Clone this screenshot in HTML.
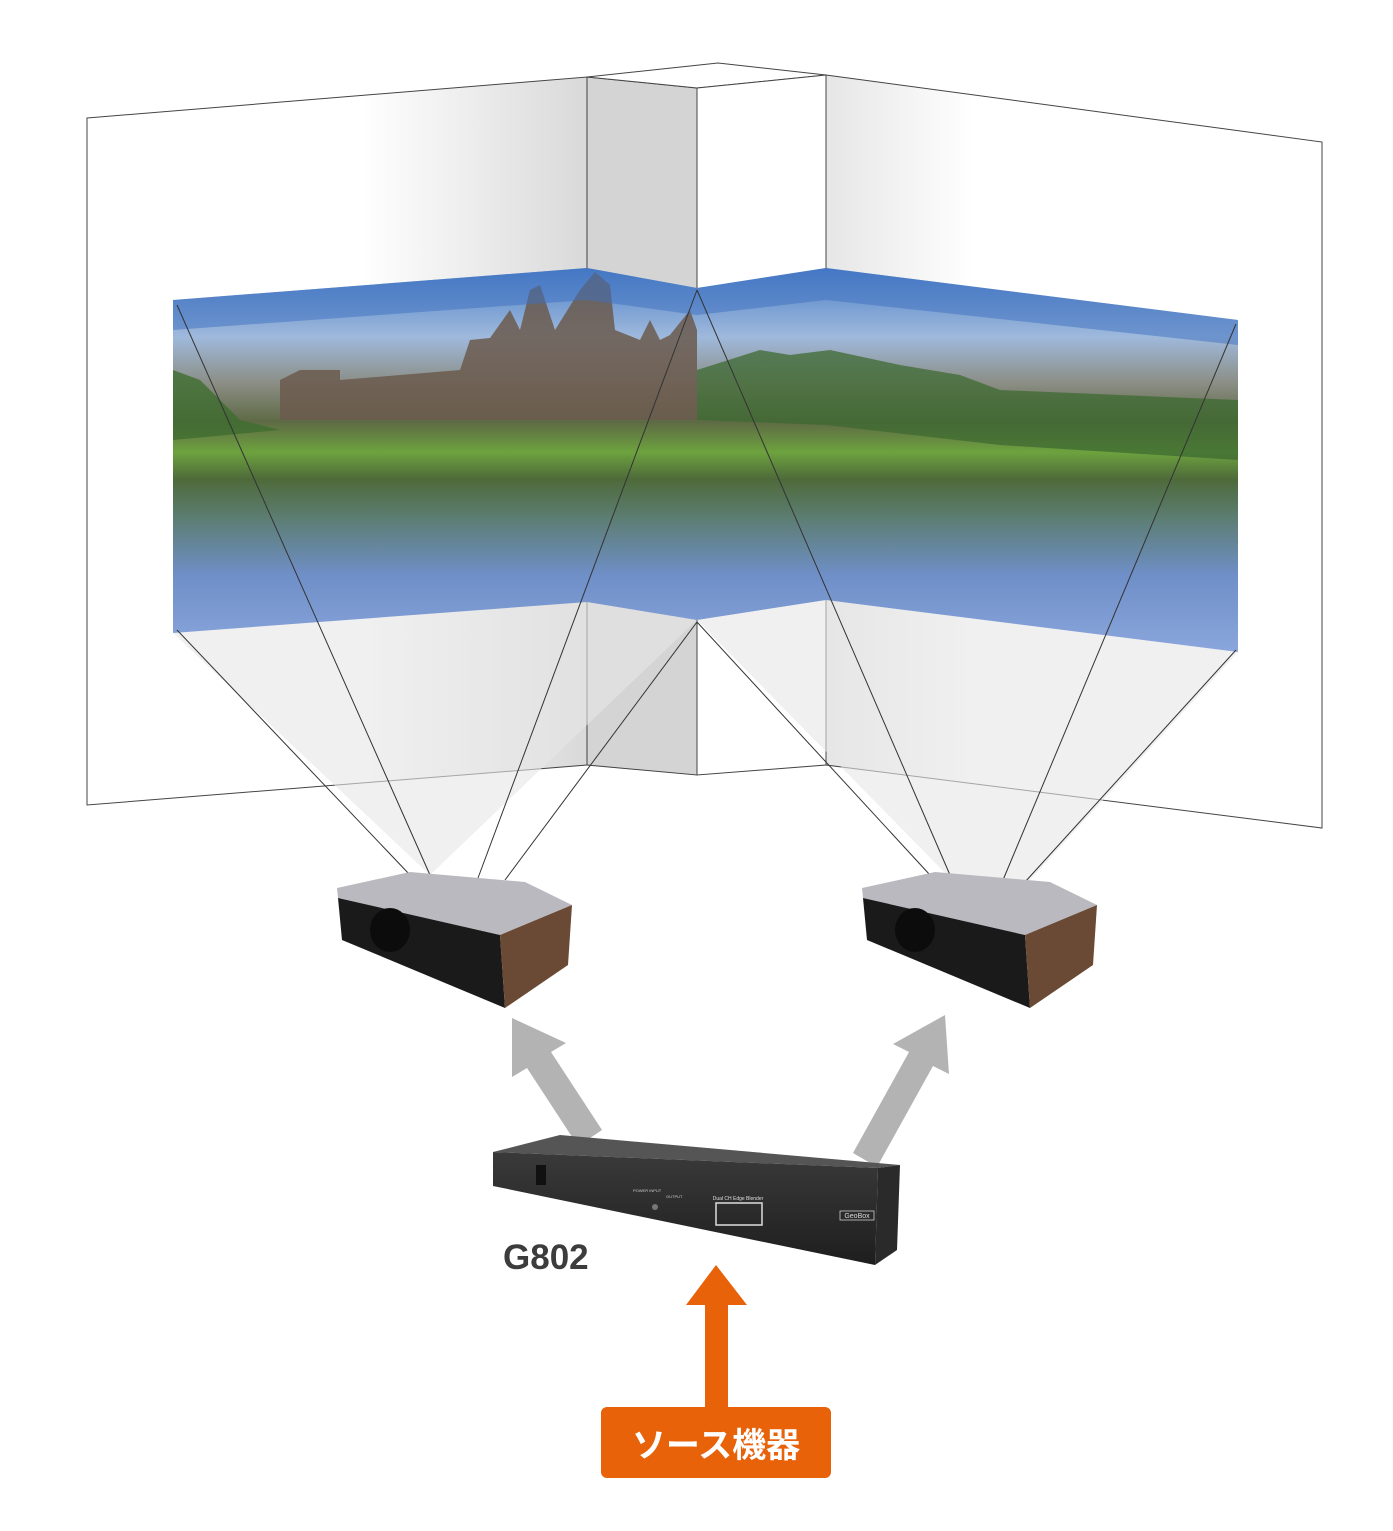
<!DOCTYPE html>
<html><head><meta charset="utf-8"><style>
html,body{margin:0;padding:0;background:#fff;}
svg{display:block;}
</style></head><body>
<svg width="1393" height="1531" viewBox="0 0 1393 1531" xmlns="http://www.w3.org/2000/svg">
<defs>
<linearGradient id="lw" x1="0" x2="1" y1="0" y2="0">
 <stop offset="0" stop-color="#fff"/><stop offset="0.55" stop-color="#fff"/><stop offset="1" stop-color="#d9d9d9"/>
</linearGradient>
<linearGradient id="rw" x1="0" x2="1" y1="0" y2="0">
 <stop offset="0" stop-color="#e6e6e6"/><stop offset="0.3" stop-color="#fff"/><stop offset="1" stop-color="#fff"/>
</linearGradient>
<linearGradient id="img" x1="0" x2="0" y1="0" y2="1">
 <stop offset="0" stop-color="#4a7fc8"/>
 <stop offset="0.18" stop-color="#9fb9dc"/>
 <stop offset="0.3" stop-color="#8b8e85"/>
 <stop offset="0.4" stop-color="#5e6a45"/>
 <stop offset="0.48" stop-color="#6da23e"/>
 <stop offset="0.55" stop-color="#4e6a3a"/>
 <stop offset="0.65" stop-color="#5c7d72"/>
 <stop offset="0.8" stop-color="#6f8fc8"/>
 <stop offset="1" stop-color="#8aa6dc"/>
</linearGradient>
<linearGradient id="dev" x1="0" x2="0" y1="0" y2="1">
 <stop offset="0" stop-color="#3a3a3a"/><stop offset="1" stop-color="#1e1e1e"/>
</linearGradient>
</defs>

<polygon points="87,118 587,77 587,765 87,805" fill="url(#lw)" stroke="#444" stroke-width="1"/>
<polygon points="587,77 697,88 697,775 587,765" fill="#d4d4d4" stroke="#444" stroke-width="1"/>
<polygon points="587,77 718,63 826,75 697,88" fill="#fff" stroke="#444" stroke-width="1"/>
<polygon points="697,88 826,75 826,765 697,775" fill="#fff" stroke="#444" stroke-width="1"/>
<polygon points="826,75 1322,142 1322,828 826,765" fill="url(#rw)" stroke="#444" stroke-width="1"/>

<polygon points="173,633 587,602 697,620 430,875" fill="#e6e6e6" opacity="0.6"/>
<polygon points="697,620 826,600 1238,652 1030,880 950,878" fill="#e6e6e6" opacity="0.6"/>

<polygon points="173,300 587,268 697,288 826,268 1238,320 1238,652 826,600 697,620 587,602 173,633" fill="url(#img)"/>
<polygon points="280,420 280,380 300,370 340,370 340,380 460,370 470,340 490,338 510,310 520,330 530,290 540,285 555,330 580,290 595,272 610,285 615,330 640,340 650,320 660,340 670,335 690,310 697,330 697,420" fill="#6b5a4e" opacity="0.85"/>
<polygon points="697,420 697,370 760,350 790,355 830,350 900,365 960,375 1000,390 1238,400 1238,460 1000,445 826,425" fill="#3e6a32" opacity="0.75"/>
<polygon points="173,440 173,370 200,380 240,420 280,430" fill="#3f6d30" opacity="0.8"/>
<polygon points="173,300 587,268 697,288 826,268 1238,320 1238,345 826,300 697,315 587,300 173,330" fill="#3d6fc0" opacity="0.5"/>

<g stroke="#333" stroke-width="1" fill="none">
<line x1="177" y1="305" x2="430" y2="875"/>
<line x1="697" y1="290" x2="478" y2="878"/>
<line x1="697" y1="290" x2="950" y2="875"/>
<line x1="1236" y1="324" x2="1003" y2="880"/>
<line x1="177" y1="630" x2="410" y2="875"/>
<line x1="697" y1="622" x2="505" y2="880"/>
<line x1="697" y1="622" x2="930" y2="875"/>
<line x1="1236" y1="650" x2="1025" y2="882"/>
</g>

<g>
<polygon points="337,888 410,872 525,882 572,905 500,935 338,898" fill="#b9b9bf"/>
<polygon points="338,898 500,935 505,1008 342,940" fill="#1a1a1a"/>
<polygon points="500,935 572,905 568,965 505,1008" fill="#6a4a35"/>
<ellipse cx="390" cy="930" rx="20" ry="22" fill="#0c0c0c"/>
</g>
<g>
<polygon points="862,888 935,872 1050,882 1097,905 1025,935 863,898" fill="#b9b9bf"/>
<polygon points="863,898 1025,935 1030,1008 867,940" fill="#1a1a1a"/>
<polygon points="1025,935 1097,905 1093,965 1030,1008" fill="#6a4a35"/>
<ellipse cx="915" cy="930" rx="20" ry="22" fill="#0c0c0c"/>
</g>

<polygon points="602,1130 578,1146 527,1068 512,1077 512,1018 566,1043 551,1052" fill="#b3b3b3"/>
<polygon points="853,1153 877,1167 933,1066 949,1074 945,1015 893,1044 909,1052" fill="#b3b3b3"/>

<polygon points="493,1152 560,1135 900,1165 878,1168" fill="#555"/>
<polygon points="493,1152 878,1168 875,1265 493,1186" fill="url(#dev)"/>
<polygon points="878,1168 900,1165 897,1250 875,1265" fill="#2a2a2a"/>
<rect x="536" y="1165" width="10" height="20" fill="#111"/>
<rect x="716" y="1203" width="46" height="22" fill="none" stroke="#ddd" stroke-width="1.5"/>
<text x="738" y="1200" font-family="Liberation Sans, sans-serif" font-size="5" fill="#ddd" text-anchor="middle">Dual CH Edge Blender</text>
<text x="633" y="1192" font-family="Liberation Sans, sans-serif" font-size="4" fill="#ccc">POWER INPUT</text>
<text x="666" y="1198" font-family="Liberation Sans, sans-serif" font-size="4" fill="#ccc">OUTPUT</text>
<circle cx="655" cy="1207" r="3" fill="#777"/>
<rect x="840" y="1211" width="34" height="9" fill="none" stroke="#ccc" stroke-width="0.8"/>
<text x="857" y="1218" font-family="Liberation Sans, sans-serif" font-size="7" fill="#ddd" text-anchor="middle">GeoBox</text>

<text x="503" y="1269" font-family="Liberation Sans, sans-serif" font-size="35" font-weight="bold" fill="#3c3c3c">G802</text>

<polygon points="716,1265 747,1305 728,1305 728,1410 705,1410 705,1305 686,1305" fill="#e8620a"/>
<rect x="601" y="1407" width="230" height="71" rx="6" fill="#e8620a"/>
<text x="716" y="1457" font-family="Liberation Sans, 'Noto Sans CJK JP', sans-serif" font-size="34" font-weight="bold" fill="#fff" text-anchor="middle">ソース機器</text>
</svg>
</body></html>
